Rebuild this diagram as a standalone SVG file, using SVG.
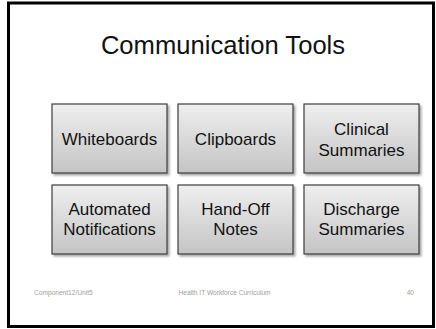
<svg xmlns="http://www.w3.org/2000/svg" width="436" height="329" viewBox="0 0 436 329">
<defs>
<linearGradient id="g" x1="0" y1="0" x2="0" y2="1">
<stop offset="0" stop-color="#efefef"/>
<stop offset="1" stop-color="#c4c4c4"/>
</linearGradient>
<filter id="sh" x="-10%" y="-10%" width="130%" height="130%">
<feGaussianBlur in="SourceAlpha" stdDeviation="1.2"/>
<feOffset dx="1.5" dy="1.5" result="b"/>
<feComponentTransfer><feFuncA type="linear" slope="0.35"/></feComponentTransfer>
<feMerge><feMergeNode/><feMergeNode in="SourceGraphic"/></feMerge>
</filter>
</defs>
<style>
.box{fill:url(#g);stroke:#3c3c3c;stroke-width:1.2;filter:url(#sh)}
.t{font-family:"Liberation Sans",Arial,sans-serif;font-size:17px;fill:#111;text-anchor:middle}
.f{font-family:"Liberation Sans",Arial,sans-serif;font-size:6.6px;fill:#a0a0a0}
</style>
<rect x="0" y="0" width="436" height="329" fill="#fff"/>
<rect x="8.5" y="3" width="425" height="323.5" fill="none" stroke="#000" stroke-width="3"/>
<text x="223" y="54" font-family="Liberation Sans,Arial,sans-serif" font-size="25.6" fill="#111" text-anchor="middle">Communication Tools</text>
<g id="whiteboards"><rect class="box" x="52" y="104" width="115" height="69"/><text class="t" x="109.5" y="145">Whiteboards</text></g>
<g id="clipboards"><rect class="box" x="178" y="104" width="115" height="69"/><text class="t" x="235.5" y="145">Clipboards</text></g>
<g id="clinical"><rect class="box" x="304" y="104" width="115" height="69"/><text class="t" x="361.5" y="135">Clinical</text><text class="t" x="361.5" y="155.5">Summaries</text></g>
<g id="automated"><rect class="box" x="52" y="185" width="115" height="69"/><text class="t" x="109.5" y="214.5">Automated</text><text class="t" x="109.5" y="235">Notifications</text></g>
<g id="handoff"><rect class="box" x="178" y="185" width="115" height="69"/><text class="t" x="235.5" y="214.5">Hand-Off</text><text class="t" x="235.5" y="235">Notes</text></g>
<g id="discharge"><rect class="box" x="304" y="185" width="115" height="69"/><text class="t" x="361.5" y="214.5">Discharge</text><text class="t" x="361.5" y="235">Summaries</text></g>
<g id="connectors"></g>
<text class="f" x="34" y="295">Component12/Unit5</text>
<text class="f" x="224.5" y="295" text-anchor="middle">Health IT Workforce Curriculum</text>
<text class="f" x="414" y="295" text-anchor="end">40</text>
</svg>
